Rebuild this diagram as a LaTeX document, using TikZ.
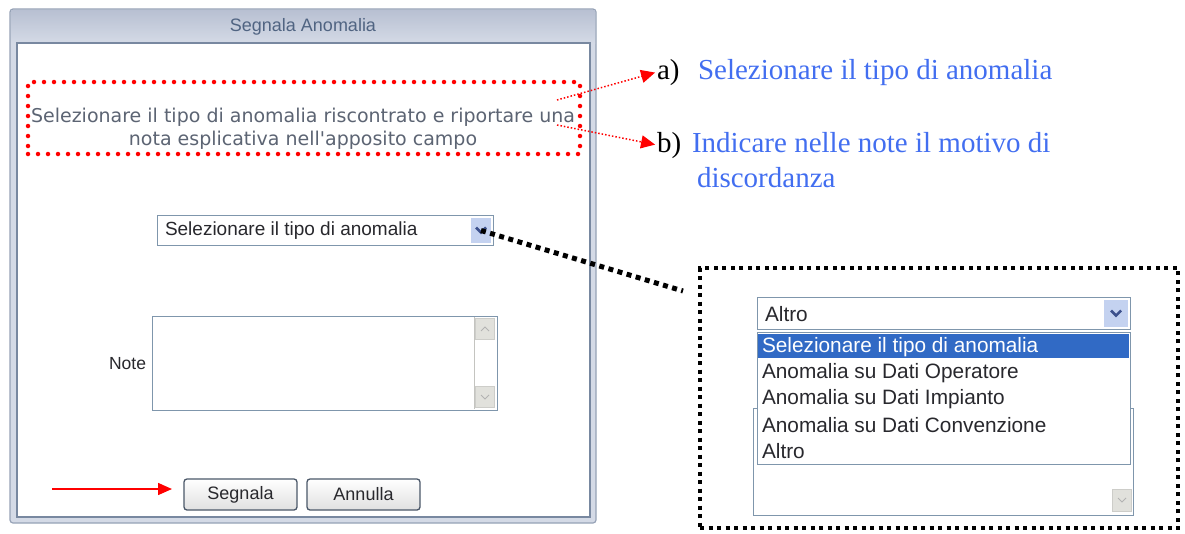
\documentclass[tikz,border=0pt]{standalone}
\usepackage{fontspec}
\setmainfont{Liberation Serif}
\newfontfamily\uifont{Liberation Sans}
\newfontfamily\descfont{DejaVu Sans}
\usetikzlibrary{positioning,arrows.meta}

\definecolor{framefill}{RGB}{212,218,230}
\definecolor{frameline}{RGB}{150,162,182}
\definecolor{titletop}{RGB}{184,192,210}
\definecolor{titlemid}{RGB}{236,238,243}
\definecolor{panelline}{RGB}{120,136,160}
\definecolor{titletext}{RGB}{80,100,130}
\definecolor{desctext}{RGB}{92,100,115}
\definecolor{boxline}{RGB}{127,150,172}
\definecolor{btnblue}{RGB}{196,210,240}
\definecolor{chevron}{RGB}{60,80,140}
\definecolor{scrollgray}{RGB}{225,225,220}
\definecolor{selblue}{RGB}{49,106,197}
\definecolor{annblue}{RGB}{66,110,240}
\definecolor{uitext}{RGB}{40,40,45}
\definecolor{btnline}{RGB}{75,88,105}

\tikzset{
  redbox/.style={draw=red, line width=4.5pt, dash pattern=on 0pt off 10pt, line cap=round},
  zoombox/.style={draw=black, line width=4pt, dash pattern=on 4pt off 4.5pt},
  zoomline/.style={draw=black, line width=5pt, dash pattern=on 5pt off 4.5pt},
  hintline/.style={draw=red, line width=1.5pt, dash pattern=on 1.5pt off 2pt, -{Triangle[length=14pt,width=13pt]}},
  redarrow/.style={draw=red, line width=1.5pt, -{Triangle[length=14pt,width=12pt]}},
  combo/.style={draw=boxline, fill=white, line width=1pt, anchor=north west},
  arrowbtn/.style={fill=btnblue, anchor=north east},
  scrollbtn/.style={fill=scrollgray, draw=scrollgray!80!gray, minimum width=19pt, minimum height=21pt},
  uibutton/.style={draw=btnline, line width=1.3pt, rounded corners=3pt, top color=white, bottom color=black!12,
    minimum width=113pt, minimum height=31pt, font=\uifont\fontsize{18}{20}\selectfont, text=uitext},
  annot/.style={anchor=base west, font=\fontsize{29}{34}\selectfont},
  listtext/.style={anchor=west, font=\uifont\fontsize{20.8}{24}\selectfont, text=uitext},
}

\begin{document}
\begin{tikzpicture}[x=1pt,y=1pt,yscale=-1,xscale=1,every node/.style={inner sep=0pt,outer sep=0pt}]
\useasboundingbox (0,0) rectangle (1185,533);

% dialog window
\draw[frameline, fill=framefill, rounded corners=3pt, line width=1.2pt] (10,9) rectangle (596,523);
\shade[top color=titletop, middle color=titlemid, bottom color=framefill] (11,10) rectangle (595,43);
\node (title) at (303,27) {\uifont\fontsize{18}{20}\selectfont\color{titletext}Segnala Anomalia};
\draw[panelline, fill=white, line width=1.2pt] (17,43) rectangle (590,517);

% description
\node[redbox, minimum width=552pt, minimum height=72pt, anchor=north west] (descbox) at (28,82) {};
\node[align=center, text=desctext, font=\descfont\fontsize{19}{23}\selectfont] (desc) at (303,129)
  {Selezionare il tipo di anomalia riscontrato e riportare una\\nota esplicativa nell'apposito campo};

% combo box
\node[combo, minimum width=336pt, minimum height=30pt] (combo) at (157,215) {};
\node[anchor=west, text=uitext, font=\uifont\fontsize{19}{22}\selectfont] (combotext) at (165,231) {Selezionare il tipo di anomalia};
\node[arrowbtn, minimum width=20pt, minimum height=25pt] (comboarrow) at (491,218) {};
\draw[chevron, line width=2.5pt] ([xshift=-5pt,yshift=-3pt]comboarrow.center) -- ([yshift=2pt]comboarrow.center) -- ([xshift=5pt,yshift=-3pt]comboarrow.center);

% note area
\node[combo, minimum width=345pt, minimum height=94pt] (notes) at (152,316) {};
\draw[scrollgray!70!gray] (474,317) -- (474,409);
\node[scrollbtn] (scrollup) at (485,329) {};
\node[scrollbtn] (scrolldown) at (485,397) {};
\draw[gray!60, line width=1pt] ([xshift=-4pt,yshift=2pt]scrollup.center) -- ([yshift=-2pt]scrollup.center) -- ([xshift=4pt,yshift=2pt]scrollup.center);
\draw[gray!60, line width=1pt] ([xshift=-4pt,yshift=-2pt]scrolldown.center) -- ([yshift=2pt]scrolldown.center) -- ([xshift=4pt,yshift=-2pt]scrolldown.center);
\node[anchor=east, text=uitext, font=\uifont\fontsize{17.5}{20}\selectfont] (notelabel) at (146,364) {Note};

% buttons
\node[uibutton] (segnala) at (240.5,494.5) {Segnala};
\node[uibutton] (annulla) at (363.5,494.5) {Annulla};
\coordinate (arrowstart) at (52,489);
\draw[redarrow, shorten >=12pt] (arrowstart) -- (arrowstart -| segnala.west);

% annotations
\node[annot] (labela) at (657,79) {a)};
\node[annot, text=annblue] (texta) at (698,79) {Selezionare il tipo di anomalia};
\node[annot] (labelb) at (657,152) {b)};
\node[annot, text=annblue] (textb) at (692,152) {Indicare nelle note il motivo di};
\node[annot, text=annblue] (textb2) at (697,187) {discordanza};
\coordinate (outa) at (557,100);
\coordinate (outb) at (557,125);
\draw[hintline, shorten >=2pt] (outa) -- (labela.west);
\draw[hintline, shorten >=2pt] (outb) -- (labelb.west);

% zoomed list
\node[zoombox, minimum width=478pt, minimum height=260pt, anchor=north west] (zoom) at (700,268) {};
\coordinate (zoomend) at (683,291);
\draw[zoomline] (comboarrow.center) -- (zoomend);

\draw[boxline, line width=1pt] (753,408) rectangle (1133,515);
\node[scrollbtn, minimum height=22pt] (scrolldown2) at (1122,500) {};
\draw[gray!60, line width=1pt] ([xshift=-4pt,yshift=-2pt]scrolldown2.center) -- ([yshift=2pt]scrolldown2.center) -- ([xshift=4pt,yshift=-2pt]scrolldown2.center);

\node[combo, minimum width=373pt, minimum height=32pt] (combo2) at (757,297) {};
\node[listtext] (combotext2) at (765,314) {Altro};
\node[arrowbtn, minimum width=24pt, minimum height=27pt] (comboarrow2) at (1128,300) {};
\draw[chevron, line width=2.5pt] ([xshift=-5pt,yshift=-3pt]comboarrow2.center) -- ([yshift=2pt]comboarrow2.center) -- ([xshift=5pt,yshift=-3pt]comboarrow2.center);

\node[combo, minimum width=373pt, minimum height=132pt] (list) at (757,332) {};
\fill[selblue] (758,334) rectangle (1129,358);
\node[listtext, text=white] (item0) at (762,347) {Selezionare il tipo di anomalia};
\foreach \txt [count=\i] in {Anomalia su Dati Operatore,Anomalia su Dati Impianto,Anomalia su Dati Convenzione,Altro}
  \node[listtext] (item\i) at (762,347+26*\i) {\txt};

\end{tikzpicture}
\end{document}
